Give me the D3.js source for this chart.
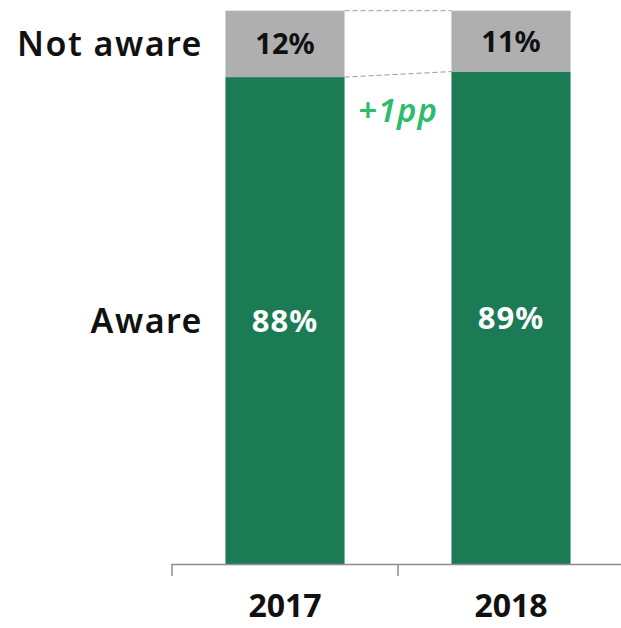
<!DOCTYPE html>
<html>
<head>
<meta charset="utf-8">
<script src="https://cdn.jsdelivr.net/npm/d3@7"></script>
<style>
  html, body { margin: 0; padding: 0; background: #fff; }
  svg { display: block; font-family: "Noto Sans", "DejaVu Sans", sans-serif; }
</style>
</head>
<body>
<svg id="chart" width="621" height="628"></svg>
<script>
// Awareness share by year
const years = ["2017", "2018"];
const aware = [88, 89];
const notAware = [12, 11];
const segmentLabels = ["Aware", "Not aware"];
const changeLabel = "+1pp";

const colors = { aware: "#1b7b55", notAware: "#afafaf", change: "#2dbb6c", axis: "#8c8c8c", dash: "#9a9a9a" };

const svg = d3.select("#chart");

const x = d3.scaleBand().domain(years).range([172, 624]).padding(0);
const barW = x.bandwidth() * 0.527;
const barX = d => x(d) + (x.bandwidth() - barW) / 2;
const y = d3.scaleLinear().domain([0, 100]).range([564, 10.7]);

const rows = years.map((yr, i) => ({ year: yr, aware: aware[i], notAware: notAware[i] }));
const stack = d3.stack().keys(["aware", "notAware"])(rows);

// stacked bars
svg.append("g").selectAll("g").data(stack).join("g")
  .attr("fill", s => colors[s.key])
  .selectAll("rect").data(s => s).join("rect")
  .attr("x", d => barX(d.data.year))
  .attr("width", barW)
  .attr("y", d => y(d[1]))
  .attr("height", d => y(d[0]) - y(d[1]));

// dashed connectors between the two bars
const x1 = barX(years[0]) + barW, x2 = barX(years[1]);
const connectors = [
  [y(100), y(100)],
  [y(aware[0]), y(aware[1])]
];
svg.append("g").selectAll("line").data(connectors).join("line")
  .attr("x1", x1).attr("x2", x2)
  .attr("y1", d => d[0]).attr("y2", d => d[1])
  .attr("stroke", colors.dash).attr("stroke-width", 1)
  .attr("stroke-dasharray", "5,3");

// value labels inside segments
const labels = svg.append("g").attr("text-anchor", "middle").attr("font-weight", 700);
stack.forEach(s => {
  labels.selectAll(null).data(s).join("text")
    .attr("x", d => barX(d.data.year) + barW / 2)
    .attr("y", d => y((d[0] + d[1]) / 2))
    .attr("dy", "0.36em")
    .attr("font-size", s.key === "aware" ? 31 : 29)
    .attr("letter-spacing", s.key === "aware" ? 1 : 0)
    .attr("fill", s.key === "aware" ? "#fff" : "#111")
    .text(d => (d[1] - d[0]) + "%");
});

// segment names on the left
svg.append("g").attr("text-anchor", "end").attr("font-size", 34).attr("font-weight", 600)
  .attr("letter-spacing", 1.5).attr("fill", "#111")
  .selectAll("text").data([
    { t: segmentLabels[0], v: (0 + aware[0]) / 2 },
    { t: segmentLabels[1], v: aware[0] + notAware[0] / 2 }
  ]).join("text")
  .attr("x", 203)
  .attr("y", d => y(d.v))
  .attr("dy", "0.36em")
  .text(d => d.t);

// change annotation
svg.append("text")
  .attr("x", (x1 + x2) / 2)
  .attr("y", 110)
  .attr("dy", "0.36em")
  .attr("text-anchor", "middle")
  .attr("font-size", 33)
  .attr("font-weight", 600)
  .attr("font-style", "italic")
  .attr("letter-spacing", 1)
  .attr("fill", colors.change)
  .text(changeLabel);

// x axis with ticks at category boundaries
const axis = svg.append("g");
axis.append("line")
  .attr("x1", x.range()[0]).attr("x2", x.range()[1])
  .attr("y1", y(0) + 0.5).attr("y2", y(0) + 0.5)
  .attr("stroke", colors.axis).attr("stroke-width", 1.5);
axis.selectAll("line.tick").data(years.map(d => x(d)).concat([x.range()[1]])).join("line")
  .attr("class", "tick")
  .attr("x1", d => d).attr("x2", d => d)
  .attr("y1", y(0)).attr("y2", y(0) + 12)
  .attr("stroke", colors.axis).attr("stroke-width", 1.5);
axis.selectAll("text").data(years).join("text")
  .attr("x", d => x(d) + x.bandwidth() / 2)
  .attr("y", 617)
  .attr("text-anchor", "middle")
  .attr("font-size", 32)
  .attr("font-weight", 700)
  .attr("fill", "#111")
  .text(d => d);
</script>
</body>
</html>
